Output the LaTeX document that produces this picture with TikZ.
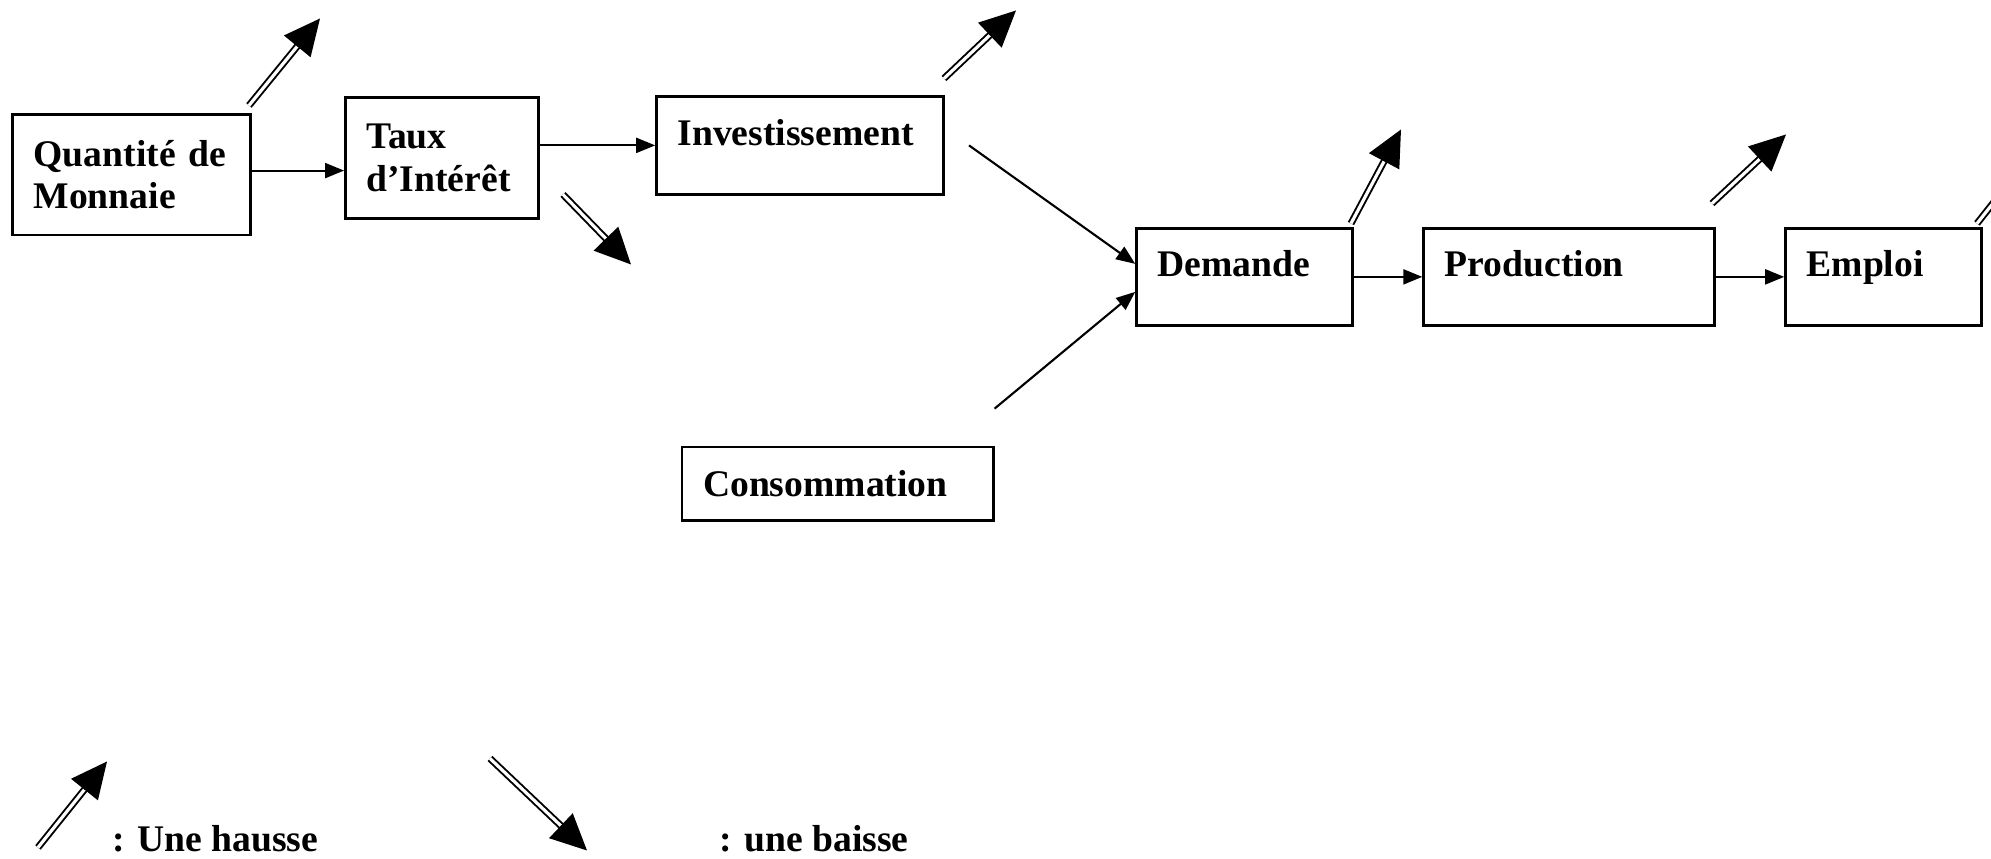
\documentclass[tikz,border=0pt]{standalone}
\usepackage{fontspec}
\setmainfont{Liberation Serif}
\usetikzlibrary{arrows.meta,calc}

\begin{document}
\begin{tikzpicture}[
  box/.style={draw, line width=0.8pt, align=left, inner xsep=2.1mm, inner ysep=0.5mm,
    font=\fontsize{10.7}{12.2}\selectfont\bfseries},
  raised/.style={text height=2.4mm, text depth=2.4mm},
  link/.style={-{Triangle[length=1.9mm,width=1.5mm]}, line width=0.6pt},
  dbl/.style={double, double distance=0.9pt, line width=0.55pt, shorten >=3.3mm},
  tip/.style={-{Triangle[length=3.6mm,width=3.4mm]}, line width=0.5pt},
  legend/.style={font=\fontsize{10.7}{12.2}\selectfont\bfseries, inner sep=0pt}
]
  \useasboundingbox (0,0) rectangle (19.91,8.585);
  \clip (0,0) rectangle (19.91,8.585);

  % boxes
  \node[box, text width=1.955cm, minimum height=1.207cm] (quant) at (1.314,6.839) {Quantité de\\Monnaie};
  \node[box, text width=1.511cm, minimum height=1.206cm] (taux) at (4.420,7.004) {Taux\\d’Intérêt};
  \node[box, raised, text width=2.45cm, minimum height=0.978cm] (inv) at (8.001,7.131) {Investissement};
  \node[box, raised, text width=1.739cm, minimum height=0.965cm] (dem) at (12.446,5.816) {Demande};
  \node[box, raised, text width=2.488cm, minimum height=0.965cm] (prod) at (15.691,5.816) {Production};
  \node[box, raised, text width=1.536cm, minimum height=0.965cm] (emp) at (18.834,5.816) {Emploi};
  \node[box, text width=2.691cm, minimum height=0.737cm] (cons) at (8.376,3.746) {Consommation};

  % links
  \draw[link] ([yshift=0.4mm]quant.east) -- ([yshift=0.4mm]quant.east -| taux.west);
  \draw[link] (taux.east |- inv.west) -- (inv.west);
  \draw[link] ([xshift=2.4mm]inv.east) -- ([yshift=1.3mm]dem.west);
  \draw[link] ([yshift=3.7mm]cons.north east) -- ([yshift=-1.5mm]dem.west);
  \draw[link] (dem) -- (prod);
  \draw[link] (prod) -- (emp);

  % hausse / baisse
  \coordinate (qups) at (2.49,7.53);   \coordinate (qupe) at (3.20,8.40);
  \coordinate (iups) at (9.44,7.80);   \coordinate (iupe) at (10.16,8.48);
  \coordinate (dups) at (13.51,6.35);  \coordinate (dupe) at (14.01,7.29);
  \coordinate (pups) at (17.12,6.55);  \coordinate (pupe) at (17.86,7.24);
  \coordinate (eups) at (19.77,6.35);  \coordinate (eupe) at (20.45,7.21);
  \coordinate (tdowns) at (5.63,6.64); \coordinate (tdowne) at (6.31,5.94);
  \coordinate (kups) at (0.38,0.11);   \coordinate (kupe) at (1.07,0.97);
  \coordinate (kdowns) at (4.90,1.00); \coordinate (kdowne) at (5.87,0.08);
  \foreach \a/\b in {qups/qupe, iups/iupe, dups/dupe, pups/pupe, eups/eupe,
                     tdowns/tdowne, kups/kupe, kdowns/kdowne} {
    \draw[dbl] (\a) -- (\b);
    \draw[tip] ($(\b)!3.6mm!(\a)$) -- (\b);
  }

  % legend
  \node[legend, anchor=base west] (hausse) at (1.118,0.07) {: Une hausse};
  \node[legend, anchor=base west] (baisse) at (7.188,0.07) {: une baisse};
\end{tikzpicture}
\end{document}
